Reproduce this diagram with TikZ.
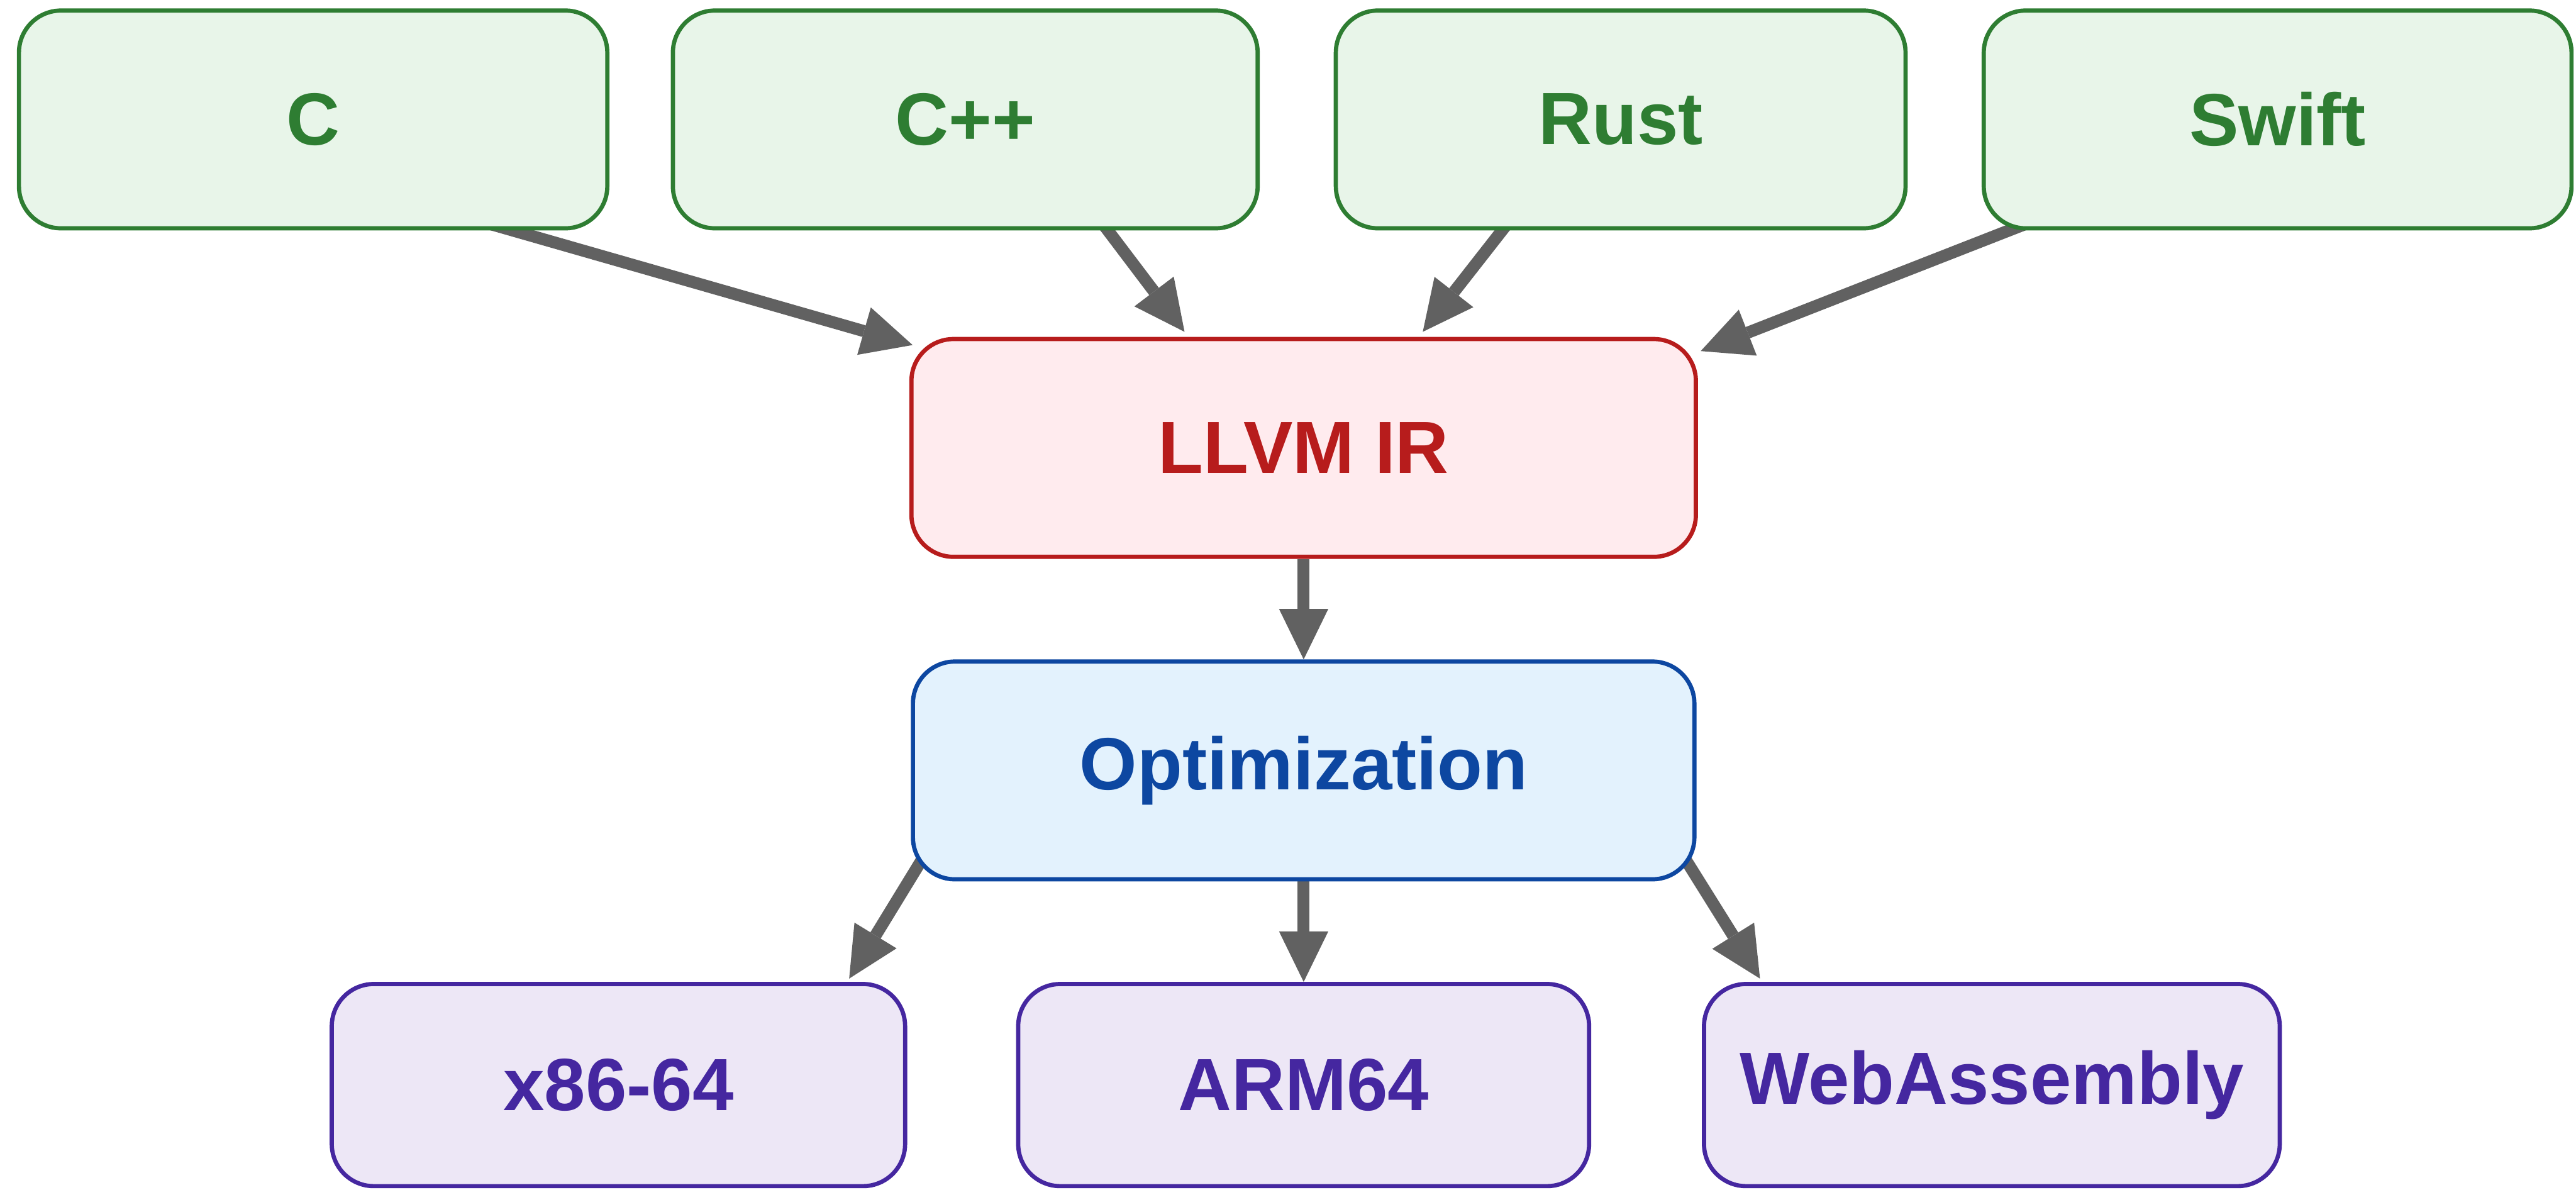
\documentclass[tikz,border=0pt]{standalone}
\usepackage{fontspec}
\setmainfont{Liberation Sans}
\usepackage{tikz}
\usetikzlibrary{arrows.meta,backgrounds}

\definecolor{langline}{HTML}{2E7D32}
\definecolor{langfill}{HTML}{E8F5E9}
\definecolor{irline}{HTML}{B71C1C}
\definecolor{irfill}{HTML}{FFEBEE}
\definecolor{optline}{HTML}{0D47A1}
\definecolor{optfill}{HTML}{E3F2FD}
\definecolor{tgtline}{HTML}{4527A0}
\definecolor{tgtfill}{HTML}{EDE7F6}
\definecolor{flowgray}{HTML}{616161}

\begin{document}
\begin{tikzpicture}[
    box/.style={rectangle, rounded corners=0.7cm, line width=0.07cm, inner sep=0pt,
        minimum height=3.62cm, font=\fontsize{35}{42}\selectfont\bfseries},
    lang/.style={box, draw=langline, fill=langfill, text=langline},
    ir/.style={box, draw=irline, fill=irfill, text=irline},
    pass/.style={box, draw=optline, fill=optfill, text=optline},
    target/.style={box, draw=tgtline, fill=tgtfill, text=tgtline, minimum height=3.36cm},
    flow/.style={draw=flowgray, line width=0.2cm,
        -{Triangle[length=0.84cm,width=0.82cm,line width=0pt]}}
]
    \useasboundingbox (0,0) rectangle (42.82,-19.77);

    % front ends
    \node[lang, minimum width=9.78cm] (c) at (5.205,-1.985) {C};
    \node[lang, minimum width=9.72cm] (cpp) at (16.045,-1.985) {C++};
    \node[lang, minimum width=9.47cm] (rust) at (26.94,-1.985) {Rust};
    \node[lang, minimum width=9.77cm] (swift) at (37.86,-1.985) {Swift};

    % middle
    \node[ir, minimum width=13.04cm] (llvm) at (21.67,-7.445) {LLVM IR};
    \node[pass, minimum width=12.99cm] (opt) at (21.67,-12.805) {Optimization};

    % back ends
    \node[target, minimum width=9.53cm] (x86) at (10.28,-18.035) {x86-64};
    \node[target, minimum width=9.49cm] (arm) at (21.67,-18.035) {ARM64};
    \node[target, minimum width=9.57cm] (wasm) at (33.11,-18.035) {WebAssembly};

    % arrows start a little inside the boxes, hidden behind them
    \begin{pgfonlayer}{background}
        \draw[flow] ([shift={(2.845,0.135)}]c.south) -- ([shift={(0.055,-0.135)}]llvm.north west);
        \draw[flow] ([shift={(2.185,0.245)}]cpp.south) -- ([shift={(-1.98,0.085)}]llvm.north);
        \draw[flow] ([shift={(-1.78,0.245)}]rust.south) -- ([shift={(1.98,0.085)}]llvm.north);
        \draw[flow] ([shift={(0.775,0.125)}]swift.south west) -- ([shift={(0.045,-0.235)}]llvm.north east);

        \draw[flow] (llvm) -- (opt);

        \draw[flow] ([shift={(0.345,0.625)}]opt.south west) -- ([shift={(-0.965,0.055)}]x86.north east);
        \draw[flow] (opt) -- (arm);
        \draw[flow] ([shift={(-0.345,0.625)}]opt.south east) -- ([shift={(0.965,0.055)}]wasm.north west);
    \end{pgfonlayer}
\end{tikzpicture}
\end{document}
